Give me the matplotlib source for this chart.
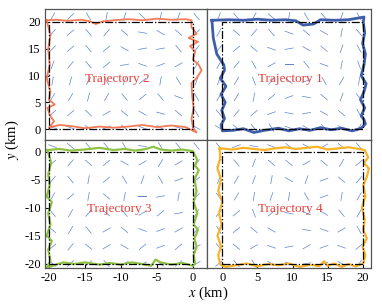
import numpy as np
import matplotlib
matplotlib.use('Agg')
import matplotlib.pyplot as plt

plt.rcParams['font.family'] = ['Liberation Serif', 'DejaVu Serif']
plt.rcParams['mathtext.fontset'] = 'stix'
plt.rcParams['axes.unicode_minus'] = False

# flow field grid (angles of the current segments, degrees)
cols_left = [-19.5, -17, -14.5, -12, -9.5, -7, -4.5, -2, 0.5]
cols_right = [-0.5, 2, 4.5, 7, 9.5, 12, 14.5, 17, 19.5]
rows_top = [21, 18, 15, 12, 9, 6, 3, 0.3]
rows_bottom = [1, -2, -5, -8, -11, -14, -17, -20]

ang_tl = [
    [60, 45, -60, 80, 70, -45, 75, 70, -50],
    [50, 40, -50, 50, -40, -10, -30, -40, 45],
    [45, 40, -50, 40, -30, 10, 10, -50, 50],
    [70, 50, -50, 40, 10, -20, 20, 30, 60],
    [80, 75, 60, -60, 70, 40, 80, -60, 70],
    [60, 60, 75, 60, -50, 40, -50, -20, -60],
    [40, 40, -45, 30, -40, -30, -15, -40, -60],
    [-10, -20, -30, 20, -40, -20, -30, -15, -30],
]
ang_tr = [
    [70, -50, 60, -40, 80, -60, -50, 70, -60],
    [60, -40, 50, -50, -20, -40, -30, 80, -50],
    [50, 40, -40, -20, 10, -30, -40, 70, -60],
    [60, 50, -60, 30, 0, -50, -20, 80, -70],
    [70, 60, -70, 50, -40, 20, -60, 60, 80],
    [60, 60, 80, 40, 20, -10, -40, 70, -50],
    [-50, 50, 40, 20, -10, 10, -30, -40, -60],
    [-30, -40, -50, -60, -20, -30, -50, -30, 60],
]
ang_bl = [
    [-20, -40, -50, -50, -60, -10, -60, -50, -50],
    [40, 50, -40, 40, -30, 30, 60, 30, 50],
    [50, -50, 80, 40, -60, 70, -60, 20, 40],
    [60, 40, 80, -40, 80, 0, 10, 80, 50],
    [-50, 60, 50, -40, -50, 30, 40, 10, 60],
    [-40, 60, -50, 30, -40, -20, 20, 30, 50],
    [40, 50, -40, 30, -30, 40, 20, 40, 30],
    [-40, 45, 40, -50, 30, 20, -40, 40, 30],
]
ang_br = [
    [-50, 20, -10, -20, -40, -30, 30, -40, -50],
    [60, -50, 70, -40, -40, 30, -40, 60, 40],
    [70, 60, 70, 80, -30, 70, 20, -40, 50],
    [-50, 60, 80, 70, 80, -60, 20, 80, 60],
    [50, 40, -70, 40, -10, -20, -30, -50, 60],
    [-60, 40, -40, -30, 0, -10, -20, 30, -60],
    [-50, -40, 30, -20, 10, 30, 20, -20, 40],
    [40, -50, -60, -30, -20, 10, 20, -30, 50],
]

# trajectories
t1_x = [-1.5, -1.3, -0.8, 0.2, 0.3, -0.3, 0.5, -0.2, 0.4, -0.1, 0.3, -0.2, 0.0,
        1.5, 3, 4.5, 6, 8, 9.5, 11, 12.5, 14, 15.5, 17, 18.5, 19.8, 20.4, 20.2,
        19.8, 20.3, 19.7, 20.2, 20.5, 19.8, 20.2, 20.4, 20.0, 20.3, 20.1, 20.2,
        18, 16, 14, 13, 11.5, 10.5, 9, 7, 5, 3, 1, -1.5]
t1_y = [20.3, 17, 14, 12, 11, 9.5, 8, 6.5, 5, 3.5, 2, 0.8, -0.3,
        -0.2, 0.1, -0.6, -0.2, 0.2, -0.3, 0.1, -0.2, 0.3, -0.1, 0.2, -0.3, 0.2, 1.0, 1.8,
        2.5, 4, 5.5, 7, 8.5, 10, 12, 14, 16, 18, 20, 20.9,
        20.4, 20.3, 20.4, 19.6, 19.4, 20.2, 20.4, 20.3, 20.5, 20.3, 20.4, 20.3]

t2_x = [-20.3, -19, -17.5, -15.5, -14.3, -13.5, -12.5, -11, -9, -7, -5, -3, -1, -0.2,
        -0.2, 0.5, -0.6, 0.7, -0.4, 0.3, 0.0, 0.8, 1.2, 0.5, -0.2, -0.1, 0.1, -0.2, 0.0, 0.5,
        -1, -3, -5, -7, -9, -11, -13, -15, -17, -18.5, -19.5, -20,
        -19.3, -19.9, -20.2, -19.2, -20, -19.8, -20.3, -19.9, -20.1, -19.8, -20.3]
t2_y = [20.3, 20.4, 20.2, 20.4, 20.1, 19.6, 20.1, 20.3, 20.5, 20.3, 20.6, 20.4, 20.5, 20.3,
        19, 17.8, 17.0, 16.3, 15.5, 14.5, 13, 12, 11, 9.5, 8.6, 6, 4, 2, 0.3, -0.6,
        0.4, 0.7, 0.4, 0.8, 0.5, 0.3, 0.5, 0.2, 0.6, 0.8, 0.5, 0.2,
        1.5, 2.7, 4.0, 4.6, 5.5, 7, 9.5, 12, 15, 17.5, 20.3]

t3_x = [-20.2, -18.5, -17, -15, -13, -11, -9.5, -8, -6.5, -5.5, -4.5, -3, -1.5, 0,
        0.6, 0.3, 0.8, 0.2, 0.5, 0.1, 0.6, 0.1, 0.7, 0.2, 0.5, 0.1, 0.3, 0.0,
        -1.5, -3, -4.5, -5.2, -5.8, -7, -8.5, -10, -11.5, -13, -15, -16.5, -18, -19.5, -20.3,
        -19.8, -20.1, -19.6, -20.3, -19.8, -20.1, -19.6, -20.3, -19.9, -20.1, -19.7, -20.2]
t3_y = [0.3, 0.5, 0.2, 0.4, 0.7, 0.3, 0.5, 0.2, 0.5, 0.9, 0.4, 0.2, 0.4, 0.1,
        -1.5, -2.5, -3.3, -5, -7, -9, -11, -13, -14, -15.5, -17, -18.5, -20, -20.4,
        -19.9, -20.2, -19.8, -19.3, -20.4, -20.1, -19.8, -20.2, -19.9, -20.2, -19.8, -20.1, -19.8, -20.4, -20.7,
        -19.5, -17.5, -16, -15, -13, -11, -9, -8, -6, -4, -2, 0.3]

t4_x = [-0.4, 1.5, 3, 4.5, 6, 7.5, 9, 10.5, 12, 13.5, 15, 16.5, 18, 19.5, 20.3,
        20.8, 20.2, 20.9, 20.6, 20.1, 20.4, 19.9, 20.3, 20.1, 20.6, 20.0, 20.4, 20.1,
        19, 18, 17, 16, 15, 14.5, 13.8, 12.5, 11, 9.5, 8, 6.5, 5, 3.5, 2, 0.5, -0.3,
        -0.6, -0.2, -0.7, -0.1, -0.5, 0.0, -0.6, -0.2, -0.7, -0.3, -0.4]
t4_y = [0.6, 0.4, 0.7, 0.5, 0.3, 0.6, 0.8, 0.5, 0.7, 0.9, 0.4, 0.6, 0.8, 0.5, 0.3,
        -1, -2, -3, -4.5, -6, -8, -10, -12, -14, -15.5, -17, -18.5, -20,
        -20.5, -20.1, -20.6, -20.0, -20.4, -19.6, -20.5, -20.2, -20.6, -20.0, -20.3, -20.1, -20.5, -20.0, -20.3, -20.6, -20.2,
        -18.5, -17, -15, -13, -11, -9, -7, -5, -3, -1, 0.6]

squares = {
    'tl': ([-20, 0, 0, -20, -20], [0, 0, 20, 20, 0]),
    'tr': ([0, 20, 20, 0, 0], [0, 0, 20, 20, 0]),
    'bl': ([-20, 0, 0, -20, -20], [-20, -20, 0, 0, -20]),
    'br': ([0, 20, 20, 0, 0], [-20, -20, 0, 0, -20]),
}

fig = plt.figure(figsize=(3.82, 3.05), dpi=100)
W, H = 382, 305
xl, xm, xr = 45, 207, 371
yt, ym, yb = 9, 140, 268


def make_ax(x0, x1, y0, y1):
    return fig.add_axes([x0 / W, 1 - y1 / H, (x1 - x0) / W, (y1 - y0) / H])


ax_tl = make_ax(xl, xm, yt, ym)
ax_tr = make_ax(xm, xr, yt, ym)
ax_bl = make_ax(xl, xm, ym, yb)
ax_br = make_ax(xm, xr, ym, yb)

panels = [
    (ax_tl, cols_left, rows_top, ang_tl, (-20.55, 1.95), (-2.0, 22.4), t2_x, t2_y, '#f27b56', 1.3, 'Trajectory 2', (-10.5, 9.3), 'tl'),
    (ax_tr, cols_right, rows_top, ang_tr, (-2.2, 21.2), (-2.0, 22.4), t1_x, t1_y, '#3d5ea8', 2.0, 'Trajectory 1', (9.7, 9.3), 'tr'),
    (ax_bl, cols_left, rows_bottom, ang_bl, (-20.55, 1.95), (-20.8, 2.1), t3_x, t3_y, '#8fc241', 1.6, 'Trajectory 3', (-10.3, -10.3), 'bl'),
    (ax_br, cols_right, rows_bottom, ang_br, (-2.2, 21.2), (-20.8, 2.1), t4_x, t4_y, '#f8b326', 1.6, 'Trajectory 4', (9.7, -10.3), 'br'),
]

seg = 9.0  # segment length in pixels
for ax, cx, ry, ang, xlim, ylim, tx, ty, col, lw, label, lpos, key in panels:
    X, Y = np.meshgrid(cx, ry)
    a = np.radians(np.array(ang, dtype=float))
    ax.quiver(X, Y, seg * np.cos(a), seg * np.sin(a), angles='uv', scale_units='dots',
              scale=1, units='dots', width=0.7, headwidth=0, headlength=0,
              headaxislength=0, pivot='mid', color='#5f82d0', zorder=1)
    ax.plot(tx, ty, color=col, lw=lw, zorder=2, solid_joinstyle='round')
    sx, sy = squares[key]
    ax.plot(sx, sy, color='black', lw=0.9, ls='-.', zorder=3)
    ax.text(lpos[0], lpos[1], label, color='#e8403a', fontsize=9.5, ha='center', va='center')
    ax.set_xlim(xlim)
    ax.set_ylim(ylim)
    for s in ax.spines.values():
        s.set_color('#555555')
        s.set_linewidth(0.9)
    ax.tick_params(direction='in', length=3, width=0.8, labelsize=9, pad=3,
                   left=False, bottom=False, labelleft=False, labelbottom=False)

ax_tl.set_yticks([0, 5, 10, 15, 20])
ax_tl.tick_params(left=True, labelleft=True)
ax_bl.set_yticks([0, -5, -10, -15, -20])
ax_bl.tick_params(left=True, labelleft=True, bottom=True, labelbottom=True)
ax_bl.set_xticks([-20, -15, -10, -5, 0])
ax_br.set_xticks([0, 5, 10, 15, 20])
ax_br.tick_params(bottom=True, labelbottom=True)

fig.text(208 / W, 1 - 293 / H, '$x$ (km)', fontsize=10.5, ha='center', va='center')
fig.text(12 / W, 1 - 140 / H, '$y$ (km)', fontsize=10.5, ha='center', va='center', rotation=90)

fig.savefig('out.png', dpi=100)
